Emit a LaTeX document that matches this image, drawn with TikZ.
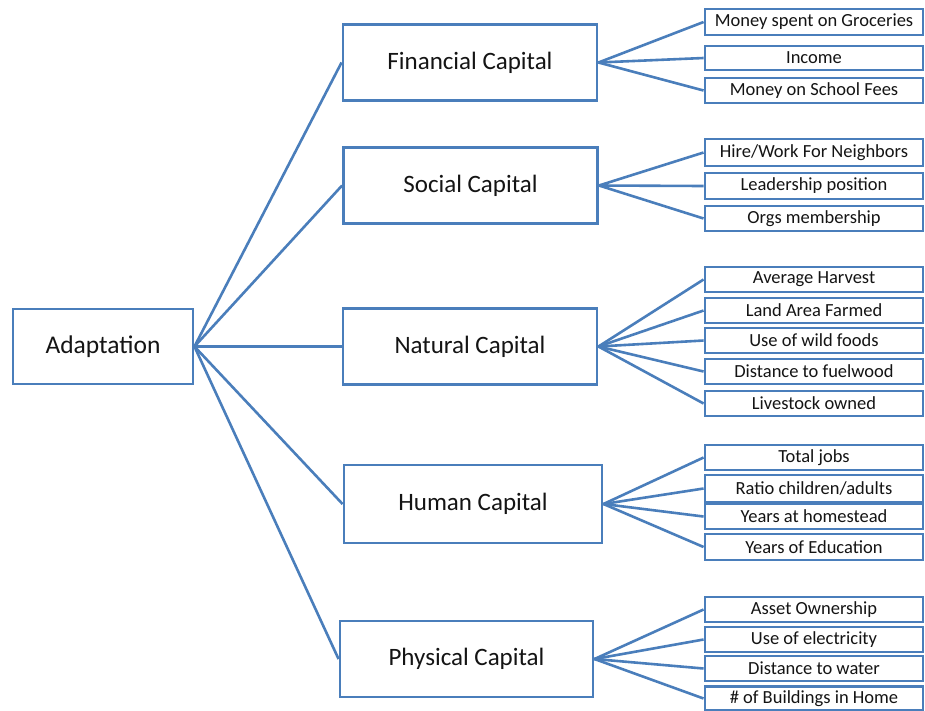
\documentclass[tikz,border=0pt]{standalone}
\usepackage{fontspec}
\setmainfont{Carlito}
\definecolor{lineblue}{RGB}{74,126,187}
\definecolor{txt}{RGB}{20,20,20}
\begin{document}
\begin{tikzpicture}[x=1pt,y=-1pt,
  base/.style={draw=lineblue, line width=2.9pt, fill=white, inner sep=0pt, text=txt, anchor=center},
  rootbox/.style={base, minimum width=180pt, minimum height=75pt, font=\fontsize{25.5}{29}\selectfont},
  capbox/.style={base, minimum width=254pt, minimum height=76pt, font=\fontsize{25}{29}\selectfont},
  leafbox/.style={base, minimum width=218pt, minimum height=25pt, font=\fontsize{18.5}{21}\selectfont},
  conn/.style={draw=lineblue, line width=2.6pt}]
\useasboundingbox (0,0) rectangle (925,710);
\clip (0,0) rectangle (925,710);
% root
\node[rootbox] (ad) at (103,346.5) {Adaptation};
% capitals
\node[capbox] (fin) at (470,62.5) {Financial Capital};
\node[capbox] (soc) at (470.5,185.5) {Social Capital};
\node[capbox] (nat) at (470,346.5) {Natural Capital};
\node[capbox, minimum width=258pt, minimum height=78pt] (hum) at (473,504) {Human Capital};
\node[capbox, minimum width=253pt] (phy) at (466.5,659) {Physical Capital};
% leaves
\node[leafbox, minimum height=26pt] (l1) at (814,22) {Money spent on Groceries};
\node[leafbox, minimum height=24pt] (l2) at (814,58) {Income};
\node[leafbox] (l3) at (814,90.5) {Money on School Fees};
\node[leafbox, minimum height=27pt] (l4) at (814,152.5) {Hire/Work For Neighbors};
\node[leafbox, minimum height=26pt] (l5) at (814,186) {Leadership position};
\node[leafbox] (l6) at (814,218.5) {Orgs membership};
\node[leafbox] (l7) at (814,279.5) {Average Harvest};
\node[leafbox] (l8) at (814,310.5) {Land Area Farmed};
\node[leafbox] (l9) at (814,340.5) {Use of wild foods};
\node[leafbox] (l10) at (814,371.5) {Distance to fuelwood};
\node[leafbox] (l11) at (814,403.5) {Livestock owned};
\node[leafbox] (l12) at (814,457.5) {Total jobs};
\node[leafbox, minimum height=27pt] (l13) at (814,488.5) {Ratio children/adults};
\node[leafbox] (l14) at (814,516.5) {Years at homestead};
\node[leafbox, minimum height=26pt] (l15) at (814,547) {Years of Education};
\node[leafbox] (l16) at (814,609.5) {Asset Ownership};
\node[leafbox] (l17) at (814,639.5) {Use of electricity};
\node[leafbox] (l18) at (814,668.5) {Distance to water};
\node[leafbox, minimum height=24pt] (l19) at (814,698.5) {\# of Buildings in Home};
% connectors root -> capitals
\foreach \c in {fin,soc,nat,hum,phy} \draw[conn] (ad.east) -- (\c.west);
% capitals -> leaves
\foreach \l in {l1,l2,l3} \draw[conn] (fin.east) -- (\l.west);
\foreach \l in {l4,l5,l6} \draw[conn] (soc.east) -- (\l.west);
\foreach \l in {l7,l8,l9,l10,l11} \draw[conn] (nat.east) -- (\l.west);
\foreach \l in {l12,l13,l14,l15} \draw[conn] (hum.east) -- (\l.west);
\foreach \l in {l16,l17,l18,l19} \draw[conn] (phy.east) -- (\l.west);
\end{tikzpicture}
\end{document}
